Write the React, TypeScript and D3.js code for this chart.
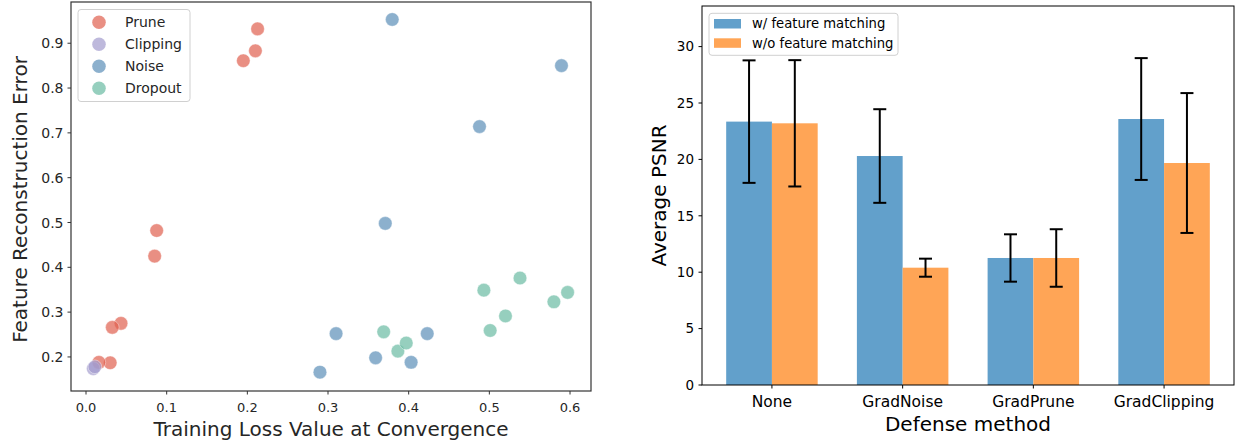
import React from "react";
import * as d3 from "d3";

// ---------- Left scatter data ----------
const pruneX = [0.2127, 0.210, 0.195, 0.0876, 0.0851, 0.0434, 0.0326, 0.030, 0.016];
const pruneY = [0.932, 0.883, 0.861, 0.482, 0.425, 0.275, 0.266, 0.187, 0.188];
const clippingX = [0.009, 0.011];
const clippingY = [0.174, 0.178];
const noiseX = [0.3796, 0.5894, 0.4878, 0.371, 0.423, 0.310, 0.359, 0.403, 0.290];
const noiseY = [0.953, 0.850, 0.714, 0.498, 0.252, 0.252, 0.198, 0.188, 0.166];
const dropoutX = [0.369, 0.3866, 0.397, 0.4932, 0.538, 0.501, 0.520, 0.580, 0.597];
const dropoutY = [0.256, 0.213, 0.231, 0.349, 0.376, 0.259, 0.2915, 0.323, 0.344];
const scatterSeries = ["Prune", "Clipping", "Noise", "Dropout"];
const scatterColors = ["#e05f4e", "#a29bcd", "#5b8eb8", "#69baa2"];
const leftXTicks = [0.0, 0.1, 0.2, 0.3, 0.4, 0.5, 0.6];
const leftYTicks = [0.2, 0.3, 0.4, 0.5, 0.6, 0.7, 0.8, 0.9];

// ---------- Right bar data ----------
const methods = ["None", "GradNoise", "GradPrune", "GradClipping"];
const withFM = [23.35, 20.3, 11.26, 23.58];
const withFMErr = [5.43, 4.15, 2.1, 5.4];
const withoutFM = [23.2, 10.4, 11.26, 19.68];
const withoutFMErr = [5.6, 0.8, 2.55, 6.2];
const barSeries = ["w/ feature matching", "w/o feature matching"];
const barColors = ["#62a0cb", "#ffa556"];
const rightYTicks = [0, 5, 10, 15, 20, 25, 30];

const FONT = "DejaVu Sans, sans-serif";

export default function App() {
  // left axes
  const L = { x0: 71, x1: 591, y0: 2, y1: 391 };
  const xL = d3.scaleLinear().domain([-0.0186, 0.626]).range([L.x0, L.x1]);
  const yL = d3.scaleLinear().domain([0.124, 0.992]).range([L.y1, L.y0]);
  const groups = [
    [pruneX, pruneY],
    [clippingX, clippingY],
    [noiseX, noiseY],
    [dropoutX, dropoutY],
  ];

  // right axes
  const R = { x0: 702, x1: 1234, y0: 6, y1: 385 };
  const xR = d3.scaleLinear().domain([-0.535, 3.535]).range([R.x0, R.x1]);
  const yR = d3.scaleLinear().domain([0, 33.6]).range([R.y1, R.y0]);
  const bw = 0.35;
  const barSets = [
    { vals: withFM, errs: withFMErr, off: -bw / 2, color: barColors[0] },
    { vals: withoutFM, errs: withoutFMErr, off: bw / 2, color: barColors[1] },
  ];
  const leftText = "#262626";

  return (
    <svg
      width={1238}
      height={444}
      style={{ position: "absolute", left: 0, top: 0, background: "#fff" }}
      fontFamily={FONT}
    >
      <rect x={0} y={0} width={1238} height={444} fill="#fff" />
      {/* ---------------- LEFT ---------------- */}
      <g>
        {groups.map(([xs, ys], gi) =>
          xs.map((xv, i) => (
            <circle
              key={`p${gi}-${i}`}
              cx={xL(xv)}
              cy={yL(ys[i])}
              r={6.8}
              fill={scatterColors[gi]}
              fillOpacity={0.7}
              stroke="#fff"
              strokeOpacity={0.5}
              strokeWidth={0.8}
            />
          ))
        )}
        <rect x={L.x0} y={L.y0} width={L.x1 - L.x0} height={L.y1 - L.y0} fill="none" stroke="#333" strokeWidth={1.2} />
        {leftXTicks.map((t) => (
          <g key={`lx${t}`}>
            <line x1={xL(t)} x2={xL(t)} y1={L.y1} y2={L.y1 + 3.5} stroke="#333" strokeWidth={1} />
            <text x={xL(t)} y={412.3} textAnchor="middle" fontSize={13} fill={leftText}>
              {t.toFixed(1)}
            </text>
          </g>
        ))}
        {leftYTicks.map((t) => (
          <g key={`ly${t}`}>
            <line x1={L.x0 - 3.5} x2={L.x0} y1={yL(t)} y2={yL(t)} stroke="#333" strokeWidth={1} />
            <text x={L.x0 - 7.5} y={yL(t)} dy="0.36em" textAnchor="end" fontSize={14} fill={leftText}>
              {t.toFixed(1)}
            </text>
          </g>
        ))}
        <text x={(L.x0 + L.x1) / 2} y={436} textAnchor="middle" fontSize={20} fill={leftText}>
          Training Loss Value at Convergence
        </text>
        <text
          transform={`translate(27,${(L.y0 + L.y1) / 2 + 3}) rotate(-90)`}
          textAnchor="middle"
          fontSize={20}
          fill={leftText}
        >
          Feature Reconstruction Error
        </text>
        {/* legend */}
        <rect x={78} y={9.5} width={112} height={92} rx={3} fill="#fff" fillOpacity={0.8} stroke="#d0d0d0" strokeWidth={1} />
        {scatterSeries.map((s, i) => (
          <g key={`lg${s}`}>
            <circle cx={99} cy={22.3 + i * 22} r={6.8} fill={scatterColors[i]} fillOpacity={0.7} />
            <text x={125} y={22.3 + i * 22} dy="0.35em" fontSize={14} fill={leftText}>
              {s}
            </text>
          </g>
        ))}
      </g>

      {/* ---------------- RIGHT ---------------- */}
      <g>
        {barSets.map((bs, si) =>
          bs.vals.map((v, i) => (
            <rect
              key={`b${si}-${i}`}
              x={xR(i + bs.off - bw / 2)}
              y={yR(v)}
              width={xR(bw) - xR(0)}
              height={yR(0) - yR(v)}
              fill={bs.color}
            />
          ))
        )}
        {barSets.map((bs, si) =>
          bs.vals.map((v, i) => {
            const cx = xR(i + bs.off);
            const top = yR(v + bs.errs[i]);
            const bot = yR(v - bs.errs[i]);
            return (
              <g key={`e${si}-${i}`} stroke="#000" strokeWidth={2}>
                <line x1={cx} x2={cx} y1={top} y2={bot} />
                <line x1={cx - 6.5} x2={cx + 6.5} y1={top} y2={top} />
                <line x1={cx - 6.5} x2={cx + 6.5} y1={bot} y2={bot} />
              </g>
            );
          })
        )}
        <rect x={R.x0} y={R.y0} width={R.x1 - R.x0} height={R.y1 - R.y0} fill="none" stroke="#000" strokeWidth={1} />
        {rightYTicks.map((t) => (
          <g key={`ry${t}`}>
            <line x1={R.x0 - 3.5} x2={R.x0} y1={yR(t)} y2={yR(t)} stroke="#000" strokeWidth={1} />
            <text x={R.x0 - 8} y={yR(t)} dy="0.35em" textAnchor="end" fontSize={13.5} fill="#000">
              {t}
            </text>
          </g>
        ))}
        {methods.map((m, i) => (
          <g key={`rx${m}`}>
            <line x1={xR(i)} x2={xR(i)} y1={R.y1} y2={R.y1 + 3.5} stroke="#000" strokeWidth={1} />
            <text x={xR(i)} y={407.3} textAnchor="middle" fontSize={15.5} fill="#000">
              {m}
            </text>
          </g>
        ))}
        <text x={(R.x0 + R.x1) / 2} y={430.7} textAnchor="middle" fontSize={20} fill="#000">
          Defense method
        </text>
        <text
          transform={`translate(666,${(R.y0 + R.y1) / 2}) rotate(-90)`}
          textAnchor="middle"
          fontSize={20}
          fill="#000"
        >
          Average PSNR
        </text>
        {/* legend */}
        <rect x={709} y={13.3} width={189} height={42} rx={3} fill="#fff" fillOpacity={0.8} stroke="#d0d0d0" strokeWidth={1} />
        {barSeries.map((s, i) => (
          <g key={`rl${s}`}>
            <rect x={714} y={19 + i * 19.3} width={27} height={9.5} fill={barColors[i]} />
            <text x={752} y={23.8 + i * 19.3} dy="0.35em" fontSize={13.2} fill="#000">
              {s}
            </text>
          </g>
        ))}
      </g>
    </svg>
  );
}
